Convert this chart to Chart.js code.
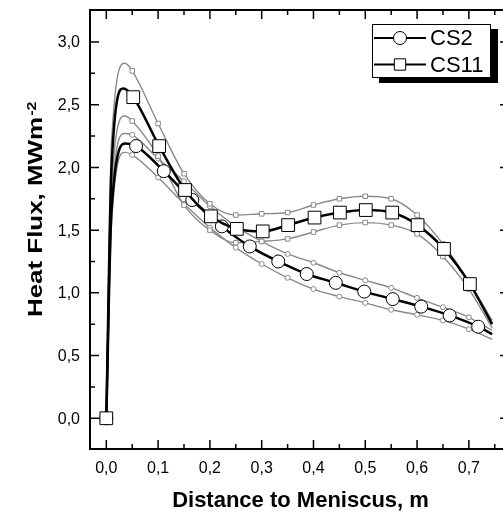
<!DOCTYPE html>
<html>
<head>
<meta charset="utf-8">
<script src="https://cdn.jsdelivr.net/npm/chart.js@4.4.0/dist/chart.umd.min.js"></script>
<style>
html, body { margin: 0; padding: 0; overflow: hidden; background: #fff; }
canvas { display: block; }
</style>
</head>
<body>
<canvas id="heatFlux" width="520" height="513"></canvas>
<script>
// axis ticks (m / MW m^-2)
const xTicks = [0, 0.1, 0.2, 0.3, 0.4, 0.5, 0.6, 0.7];
const xMinorTicks = [0.05, 0.15, 0.25, 0.35, 0.45, 0.55, 0.65, 0.75];
const yTicks = [0, 0.5, 1.0, 1.5, 2.0, 2.5, 3.0];
const yMinorTicks = [0.25, 0.75, 1.25, 1.75, 2.25, 2.75];

// mean curves, the points that carry a marker
const cs2X = [0, 0.0575, 0.111, 0.166, 0.223, 0.277, 0.332, 0.387, 0.443, 0.498, 0.553, 0.608, 0.663, 0.718];
const cs2Y = [0, 2.17, 1.97, 1.74, 1.53, 1.37, 1.25, 1.15, 1.08, 1.01, 0.95, 0.89, 0.82, 0.73];
const cs11X = [0, 0.052, 0.102, 0.152, 0.202, 0.252, 0.302, 0.351, 0.402, 0.451, 0.501, 0.552, 0.601, 0.652, 0.702];
const cs11Y = [0, 2.56, 2.17, 1.82, 1.61, 1.51, 1.49, 1.54, 1.60, 1.64, 1.66, 1.64, 1.54, 1.35, 1.07];

// grey scatter band around each curve, marker every 0.05 m
const bandX = [0, 0.05, 0.1, 0.15, 0.2, 0.25, 0.3, 0.35, 0.4, 0.45, 0.5, 0.55, 0.6, 0.65, 0.7];
const cs2Upper = [0, 2.26, 2.07, 1.89, 1.69, 1.53, 1.41, 1.31, 1.24, 1.16, 1.10, 1.04, 0.96, 0.885, 0.805];
const cs2Lower = [0, 2.10, 1.92, 1.71, 1.52, 1.36, 1.23, 1.12, 1.03, 0.97, 0.92, 0.865, 0.825, 0.78, 0.71];
const cs11Upper = [0, 2.77, 2.35, 1.95, 1.71, 1.62, 1.63, 1.64, 1.70, 1.75, 1.77, 1.75, 1.62, 1.39, 1.09];
const cs11Lower = [0, 2.37, 2.09, 1.70, 1.50, 1.40, 1.41, 1.43, 1.485, 1.54, 1.56, 1.54, 1.47, 1.29, 1.03];

// points on the lines without marker: steep rise, peak, line end
const cs2ExtraX = [0.01, 0.037, 0.745];
const cs2ExtraY = [1.65, 2.19, 0.67];
const cs11ExtraX = [0.01, 0.033, 0.745];
const cs11ExtraY = [2.0, 2.63, 0.75];
const bandExtraX = [0.01, 0.036, 0.745];
const cs2UpperExtra = [1.75, 2.27, 0.70];
const cs2LowerExtra = [1.55, 2.12, 0.63];
const cs11UpperExtra = [2.2, 2.83, 0.78];
const cs11LowerExtra = [1.85, 2.41, 0.72];

function curve(xs, ys, exX, exY) {
  const pts = xs.map((x, i) => ({ x: x, y: ys[i], m: true }));
  exX.forEach((x, i) => pts.push({ x: x, y: exY[i], m: false }));
  return pts.sort((a, b) => a.x - b.x);
}

const fmt = v => v.toFixed(1).replace('.', ',');
const GREY = '#8a8a8a';

function meanSet(label, data, style, r) {
  return {
    label: label, data: data,
    borderColor: '#000', borderWidth: 2.5,
    pointStyle: style,
    pointRadius: c => (c.raw && c.raw.m ? r : 0),
    pointBackgroundColor: '#fff', pointBorderColor: '#000', pointBorderWidth: 1
  };
}
function bandSet(data, style, r) {
  return {
    label: '', data: data,
    borderColor: GREY, borderWidth: 1.4,
    pointStyle: style,
    pointRadius: c => (c.raw && c.raw.m ? r : 0),
    pointBackgroundColor: '#fff', pointBorderColor: GREY, pointBorderWidth: 1
  };
}

// frame with inward ticks, tick labels, axis titles, legend
const decor = {
  id: 'decor',
  afterDraw(chart) {
    const { ctx, chartArea: a } = chart;
    const x = chart.scales.x, y = chart.scales.y;
    ctx.save();
    ctx.strokeStyle = '#000';
    ctx.lineWidth = 2;
    ctx.strokeRect(a.left, a.top, a.right - a.left, a.bottom - a.top);

    ctx.lineWidth = 1.5;
    ctx.beginPath();
    const xt = (v, len) => {
      const p = x.getPixelForValue(v);
      ctx.moveTo(p, a.bottom); ctx.lineTo(p, a.bottom - len);
      ctx.moveTo(p, a.top); ctx.lineTo(p, a.top + len);
    };
    const yt = (v, len) => {
      const p = y.getPixelForValue(v);
      ctx.moveTo(a.left, p); ctx.lineTo(a.left + len, p);
      ctx.moveTo(a.right, p); ctx.lineTo(a.right - len, p);
    };
    xTicks.forEach(v => xt(v, 9));
    xMinorTicks.forEach(v => xt(v, 5));
    yTicks.forEach(v => yt(v, 9));
    yMinorTicks.forEach(v => yt(v, 5));
    ctx.stroke();

    ctx.fillStyle = '#000';
    ctx.font = '16px "Liberation Sans", Arial, sans-serif';
    ctx.textBaseline = 'alphabetic';
    ctx.textAlign = 'center';
    xTicks.forEach(v => ctx.fillText(fmt(v), x.getPixelForValue(v), 472.5));
    ctx.textAlign = 'right';
    yTicks.forEach(v => ctx.fillText(fmt(v), 80, y.getPixelForValue(v) + 5.5));

    ctx.font = 'bold 22px "Liberation Sans", Arial, sans-serif';
    ctx.textAlign = 'center';
    ctx.fillText('Distance to Meniscus, m', 300.5, 507);

    // y title: rotated, stretched along its length like the original
    ctx.save();
    ctx.translate(42, 317);
    ctx.rotate(-Math.PI / 2);
    ctx.font = 'bold 21px "Liberation Sans", Arial, sans-serif';
    const main = 'Heat Flux, MWm';
    const sx = 200 / ctx.measureText(main).width;
    ctx.scale(sx, 1);
    ctx.textAlign = 'left';
    ctx.fillText(main, 0, 0);
    const w = ctx.measureText(main).width;
    ctx.font = 'bold 13px "Liberation Sans", Arial, sans-serif';
    ctx.fillText('-2', w + 1, -6);
    ctx.restore();

    // legend with drop shadow
    const lx = 372, ly = 24, lw = 119, lh = 54;
    ctx.fillStyle = '#000';
    ctx.fillRect(lx + 7, ly + 5, lw, lh);
    ctx.fillStyle = '#fff';
    ctx.fillRect(lx, ly, lw, lh);
    ctx.lineWidth = 1;
    ctx.strokeStyle = '#000';
    ctx.strokeRect(lx + 0.5, ly + 0.5, lw - 1, lh - 1);
    const entries = [chart.data.datasets[1], chart.data.datasets[0]];
    entries.forEach((ds, i) => {
      const cy = ly + 14 + i * 26.5;
      ctx.lineWidth = 2;
      ctx.strokeStyle = '#000';
      ctx.beginPath();
      ctx.moveTo(lx + 2, cy); ctx.lineTo(lx + 54, cy);
      ctx.stroke();
      ctx.fillStyle = '#fff';
      ctx.lineWidth = 1;
      Chart.helpers.drawPoint(ctx, {
        pointStyle: ds.pointStyle, rotation: 0,
        radius: ds.pointStyle === 'rect' ? 8 : 6.5, borderWidth: 1
      }, lx + 28, cy);
      ctx.fillStyle = '#000';
      ctx.font = '22px "Liberation Sans", Arial, sans-serif';
      ctx.textAlign = 'left';
      ctx.textBaseline = 'middle';
      ctx.fillText(ds.label, lx + 58, cy + 1);
    });
    ctx.restore();
  }
};

new Chart(document.getElementById('heatFlux'), {
  type: 'line',
  data: {
    datasets: [
      meanSet('CS11', curve(cs11X, cs11Y, cs11ExtraX, cs11ExtraY), 'rect', 9),
      meanSet('CS2', curve(cs2X, cs2Y, cs2ExtraX, cs2ExtraY), 'circle', 6.5),
      bandSet(curve(bandX, cs11Upper, bandExtraX, cs11UpperExtra), 'rect', 3.2),
      bandSet(curve(bandX, cs11Lower, bandExtraX, cs11LowerExtra), 'rect', 3.2),
      bandSet(curve(bandX, cs2Upper, bandExtraX, cs2UpperExtra), 'circle', 2.5),
      bandSet(curve(bandX, cs2Lower, bandExtraX, cs2LowerExtra), 'circle', 2.5)
    ]
  },
  options: {
    responsive: false,
    animation: false,
    devicePixelRatio: 1,
    cubicInterpolationMode: 'monotone',
    layout: { padding: { left: 90, top: 6, right: 11, bottom: 64 } },
    scales: {
      x: { type: 'linear', min: -0.0315, max: 0.7775, display: false },
      y: { type: 'linear', min: -0.245, max: 3.255, display: false }
    },
    plugins: { legend: { display: false }, tooltip: { enabled: false } }
  },
  plugins: [decor]
});
</script>
</body>
</html>
